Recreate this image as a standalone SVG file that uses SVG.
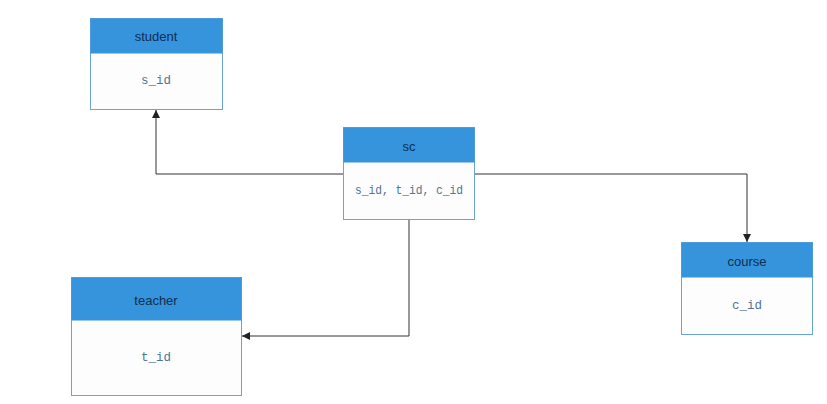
<svg xmlns="http://www.w3.org/2000/svg" width="827" height="404" viewBox="0 0 827 404">
  <style>
    .box { fill: #fdfdfd; stroke: #6aa3d6; stroke-width: 1; }
    .head { fill: #3594dc; }
    .title { font-family: "Liberation Sans", Arial, sans-serif; font-size: 13px; fill: #0f2e52; text-anchor: middle; dominant-baseline: central; }
    .field { font-family: "Liberation Mono", "DejaVu Sans Mono", monospace; font-size: 12.5px; fill: #4f7496; text-anchor: middle; dominant-baseline: central; }
    .link { fill: none; stroke: #333; stroke-width: 1; }
  </style>
  <defs>
    <marker id="arrow" viewBox="0 0 10 10" refX="10" refY="5" markerWidth="8" markerHeight="8" orient="auto" markerUnits="userSpaceOnUse">
      <path d="M0,0 L10,5 L0,10 Z" fill="#222"/>
    </marker>
  </defs>
  <rect width="827" height="404" fill="#ffffff"/>

  <g id="connectors">
    <path class="link" d="M343,174 H156 V110" marker-end="url(#arrow)"/>
    <path class="link" d="M475,174 H747 V242" marker-end="url(#arrow)"/>
    <path class="link" d="M409,220 V336 H242" marker-end="url(#arrow)"/>
  </g>

  <g id="student">
    <rect class="box" x="90.5" y="18.5" width="132" height="91"/>
    <rect class="head" x="90.5" y="18.5" width="132" height="35"/>
    <text class="title" x="156" y="36">student</text>
    <text class="field" x="156" y="81">s_id</text>
  </g>

  <g id="sc">
    <rect class="box" x="343.5" y="127.5" width="131" height="92"/>
    <rect class="head" x="343.5" y="127.5" width="131" height="35"/>
    <text class="title" x="409" y="146">sc</text>
    <text class="field" x="409" y="191" textLength="108" lengthAdjust="spacingAndGlyphs">s_id, t_id, c_id</text>
  </g>

  <g id="teacher">
    <rect class="box" x="71.5" y="277.5" width="170" height="118"/>
    <rect class="head" x="71.5" y="277.5" width="170" height="43"/>
    <text class="title" x="156" y="300">teacher</text>
    <text class="field" x="156" y="358">t_id</text>
  </g>

  <g id="course">
    <rect class="box" x="681.5" y="242.5" width="131" height="92"/>
    <rect class="head" x="681.5" y="242.5" width="131" height="35"/>
    <text class="title" x="747" y="261">course</text>
    <text class="field" x="747" y="306">c_id</text>
  </g>
</svg>
